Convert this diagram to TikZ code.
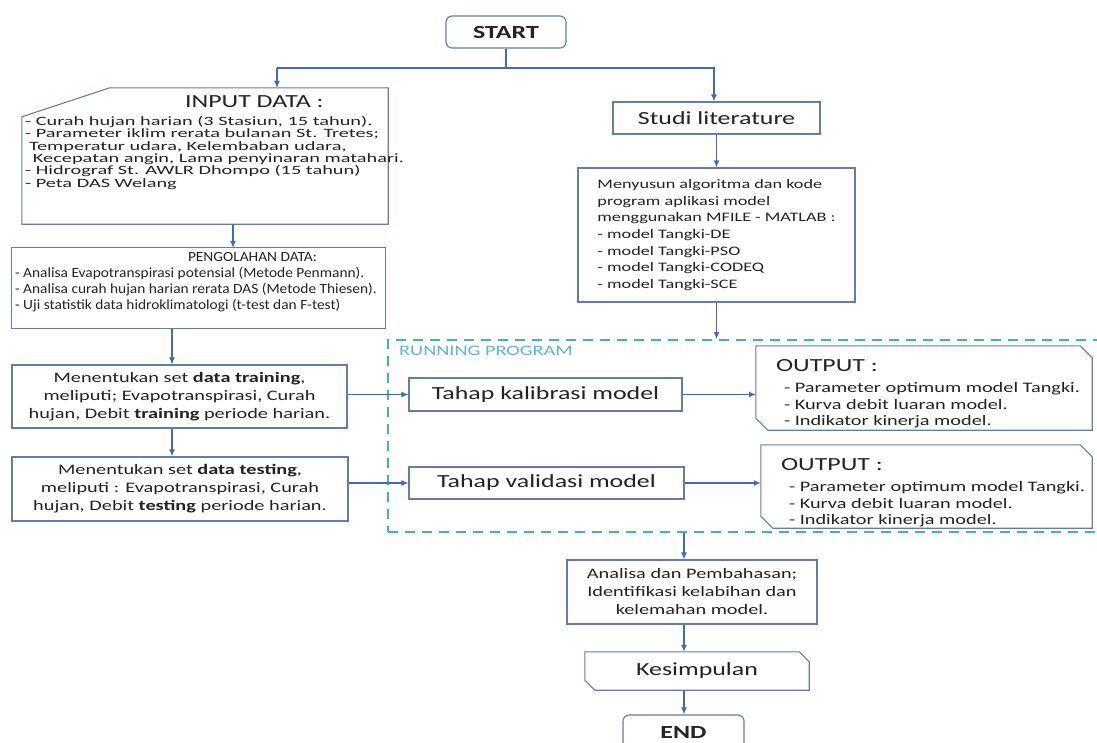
\documentclass[tikz,border=0pt]{standalone}
\usepackage{fontspec}
\setmainfont{Carlito}[FakeStretch=1.4]
\newfontfamily\widefont{Carlito}[FakeStretch=1.6]
\newfontfamily\narrowfont{Carlito}[FakeStretch=1.1]
\definecolor{fcline}{RGB}{100,125,165}
\definecolor{fcarrow}{RGB}{70,105,175}
\definecolor{fcdash}{RGB}{75,172,198}
\definecolor{fcrun}{RGB}{95,178,218}
\definecolor{fctext}{RGB}{35,35,35}
\newcommand{\fbig}{\fontsize{18.5}{22}\selectfont}
\newcommand{\fbody}{\fontsize{14.5}{18}\selectfont}
\usetikzlibrary{arrows.meta,positioning,calc}

\begin{document}
\begin{tikzpicture}[x=1pt,y=-1pt,
  box/.style={draw=fcline,line width=1.1pt,fill=white,text=fctext,align=center,inner sep=0pt},
  plain/.style={text=fctext,inner sep=0pt},
  outline/.style={draw=fcline,line width=1.1pt},
  arr/.style={-{Latex[length=7pt,width=6pt]},line width=1.1pt,fcarrow},
  link/.style={line width=1.1pt,fcarrow},
  runframe/.style={draw=fcdash,line width=2pt,dash pattern=on 10pt off 7pt}]
  \useasboundingbox (0,0) rectangle (1097,742);
  % Start
  \node[box,rounded corners=6pt,minimum width=120pt,minimum height=32pt,font=\fbig\bfseries] (start) at (506,32) {START};
  % Input data
  \node[minimum width=366pt,minimum height=136pt,inner sep=0pt] (inpbox) at (205,156) {};
  \draw[outline] ([yshift=-29pt]inpbox.north west) -- ([xshift=88pt]inpbox.north west) -- (inpbox.north east) -- (inpbox.south east) -- (inpbox.south west) -- cycle;
  \node[plain,anchor=north west,align=left,font=\widefont\fontsize{12.7}{12.4}\selectfont] (inptext) at ([xshift=3pt,yshift=-8pt]inpbox.north west) {%
    \hspace*{160pt}{\normalfont\fbig INPUT DATA :}\\[5pt]
    - Curah hujan harian (3 Stasiun, 15 tahun).\\
    - Parameter iklim rerata bulanan St. Tretes;\\
    \hspace*{4pt}Temperatur udara, Kelembaban udara,\\
    \hspace*{8pt}Kecepatan angin, Lama penyinaran matahari.\\
    - Hidrograf St. AWLR Dhompo (15 tahun)\\
    - Peta DAS Welang};
  % Pengolahan data
  \node[minimum width=373pt,minimum height=80pt,inner sep=0pt] (procbox) at (198.5,288) {};
  \draw[outline] (procbox.north west) rectangle (procbox.south east);
  \node[plain,anchor=north west,align=left,font=\narrowfont\fontsize{14}{16}\selectfont] (proctext) at ([xshift=3pt,yshift=-4pt]procbox.north west) {%
    \hspace*{173pt}PENGOLAHAN DATA:\\
    - Analisa Evapotranspirasi potensial (Metode Penmann).\\
    - Analisa curah hujan harian rerata DAS (Metode Thiesen).\\
    - Uji statistik data hidroklimatologi (t-test dan F-test)};
  % Training and testing
  \node[box,minimum width=335pt,minimum height=63pt,font=\fbody] (train) at (179.5,396.5) {Menentukan set \textbf{data training},\\ meliputi; Evapotranspirasi, Curah\\ hujan, Debit \textbf{training} periode harian.};
  \node[box,minimum width=336pt,minimum height=64pt,font=\fbody] (test) at (180,489) {Menentukan set \textbf{data testing},\\ meliputi : Evapotranspirasi, Curah\\ hujan, Debit \textbf{testing} periode harian.};
  % Right column
  \node[box,minimum width=207pt,minimum height=32pt,font=\fbig] (studi) at (716.5,118) {Studi literature};
  \node[box,align=left,minimum width=277pt,minimum height=134pt,font=\fontsize{13}{16.7}\selectfont] (algo) at (716.5,235) {Menyusun algoritma dan kode\\ program aplikasi model\\ menggunakan MFILE - MATLAB :\\ - model Tangki-DE\\ - model Tangki-PSO\\ - model Tangki-CODEQ\\ - model Tangki-SCE};
  % Running program
  \node[runframe,minimum width=712pt,minimum height=192pt,inner sep=0pt] (run) at (744,436) {};
  \node[anchor=west,inner sep=0pt,text=fcrun,font=\fontsize{14.5}{16}\selectfont] (runlbl) at (399,351) {RUNNING PROGRAM};
  \node[box,minimum width=273pt,minimum height=33pt,font=\fbig] (kal) at (545.5,394.5) {Tahap kalibrasi model};
  \node[box,minimum width=275pt,minimum height=32pt,font=\fbig] (val) at (546.5,483) {Tahap validasi model};
  % Output
  \node[minimum width=336pt,minimum height=84pt,inner sep=0pt] (out1) at (924,388) {};
  \node[minimum width=331pt,minimum height=83pt,inner sep=0pt] (out2) at (926.5,486.5) {};
  \foreach \o in {out1,out2}{
    \draw[outline] ([xshift=-12pt]\o.north east) -- ([yshift=-12pt]\o.north east) -- (\o.south east) -- ([xshift=12pt]\o.south west) -- ([yshift=12pt]\o.south west) -- (\o.north west) -- cycle;
    \node[plain,anchor=north west,align=left,font=\fontsize{14.5}{16.5}\selectfont] at ([xshift=20pt,yshift=-13pt]\o.north west) {%
      {\fbig OUTPUT :}\\[5pt]
      \hspace*{8pt}- Parameter optimum model Tangki.\\
      \hspace*{8pt}- Kurva debit luaran model.\\
      \hspace*{8pt}- Indikator kinerja model.};
  }
  % Analysis, conclusion, end
  \node[box,minimum width=250pt,minimum height=64pt,font=\fbody] (ana) at (692,592) {Analisa dan Pembahasan;\\ Identifikasi kelabihan dan\\ kelemahan model.};
  \node[minimum width=224pt,minimum height=38pt,inner sep=0pt,text=fctext,font=\fbig] (kes) at (697,671) {Kesimpulan};
  \draw[outline] ([xshift=-10pt]kes.north east) -- ([yshift=-10pt]kes.north east) -- (kes.south east) -- ([xshift=10pt]kes.south west) -- ([yshift=10pt]kes.south west) -- (kes.north west) -- cycle;
  \node[box,rounded corners=6pt,minimum width=121pt,minimum height=34pt,font=\fbig\bfseries] (end) at (683.5,732) {END};
  % Connectors
  \coordinate (jl) at (277,68);
  \coordinate (jr) at (714,68);
  \coordinate (c1) at (233,0);
  \coordinate (c2) at (172,0);
  \coordinate (c3) at (684,0);
  \draw[link] (start.south) -- (start.south |- jl);
  \draw[arr] (jl) -- (jr) -- (jr |- studi.north);
  \draw[arr] (jl) -- (jl |- inpbox.north);
  \draw[arr] (c1 |- inpbox.south) -- (c1 |- procbox.north);
  \draw[arr] (c2 |- procbox.south) -- (c2 |- train.north);
  \draw[arr] (c2 |- train.south) -- (c2 |- test.north);
  \draw[arr] (studi) -- (algo);
  \draw[arr] (algo.south) -- (algo.south |- run.north);
  \draw[arr] (train.east |- kal.west) -- (kal.west);
  \draw[arr] (test.east |- val.west) -- (val.west);
  \draw[arr] (kal.east) -- (kal.east -| out1.west);
  \draw[arr] (val.east) -- (val.east -| out2.west);
  \draw[arr] (c3 |- run.south) -- (c3 |- ana.north);
  \draw[arr] (c3 |- ana.south) -- (c3 |- kes.north);
  \draw[arr] (c3 |- kes.south) -- (c3 |- end.north);
\end{tikzpicture}
\end{document}
